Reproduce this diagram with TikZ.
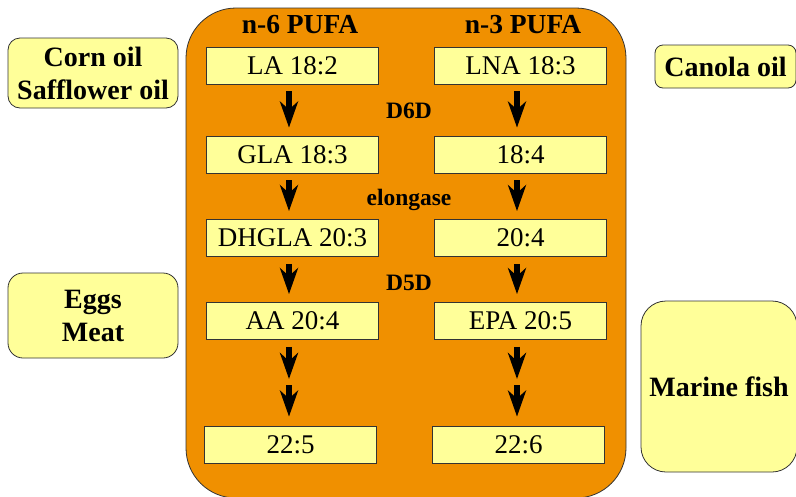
\documentclass[tikz,border=0pt]{standalone}
\usepackage{fontspec}
\setmainfont{Liberation Serif}
\newfontfamily\timesfont{Liberation Serif}
\usepackage{tikz}
\usetikzlibrary{positioning,arrows.meta}
\definecolor{pufaorange}{RGB}{240,144,0}
\definecolor{acidyellow}{RGB}{255,255,153}
\tikzset{
  acid/.style={draw=black!80, line width=0.8pt, fill=acidyellow, minimum width=172pt, minimum height=37pt, inner sep=0pt, font=\timesfont\fontsize{27}{29}\selectfont},
  source/.style={rounded corners=12pt, draw=black!80, line width=0.8pt, fill=acidyellow, align=center, inner sep=0pt, font=\timesfont\fontsize{28}{33}\selectfont\bfseries},
  head/.style={font=\timesfont\fontsize{27.5}{28}\selectfont\bfseries},
  enzyme/.style={font=\timesfont\fontsize{23.5}{24}\selectfont\bfseries},
  fat/.style={-{Stealth[length=26pt,width=18pt,inset=8pt]}, line width=6pt, shorten <=7pt, shorten >=8pt},
}
\begin{document}
\begin{tikzpicture}[x=1pt,y=-1pt]
  \useasboundingbox (0,0) rectangle (796,496);
  \begin{scope}
    \clip (0,0) rectangle (796,496);
    % pathway container
    \node[draw=black!80, line width=0.8pt, fill=pufaorange, rounded corners=50pt, minimum width=440pt, minimum height=490pt, inner sep=0pt] (pathway) at (406,253) {};
    % food sources
    \node[source, minimum width=170pt, minimum height=70pt] (corn) at (93,73) {Corn oil\\Safflower oil};
    \node[source, rounded corners=8pt, minimum width=141pt, minimum height=43pt] (canola) at (725.5,66.5) {Canola oil};
    \node[source, rounded corners=15pt, minimum width=170pt, minimum height=85pt] (eggs) at (93,315.5) {Eggs\\Meat};
    \node[source, rounded corners=25pt, minimum width=156pt, minimum height=171pt] (fish) at (719,386.5) {Marine fish};
  \end{scope}
  % column heads
  \node[head] (nsix) at (300,25) {n-6 PUFA};
  \node[head] (nthree) at (523,25) {n-3 PUFA};
  % n-6 series
  \node[acid] (la) at (292.5,65.5) {LA 18:2};
  \node[acid] (gla) at (292.5,154.5) {GLA 18:3};
  \node[acid] (dhgla) at (292.5,238) {DHGLA 20:3};
  \node[acid] (aa) at (292.5,321) {AA 20:4};
  \node[acid] (dpa) at (290.5,444.5) {22:5};
  % n-3 series
  \node[acid] (lna) at (520.5,65.5) {LNA 18:3};
  \node[acid] (sda) at (520.5,154.5) {18:4};
  \node[acid] (eta) at (520.5,238) {20:4};
  \node[acid] (epa) at (520.5,321) {EPA 20:5};
  \node[acid] (dha) at (518.5,444.5) {22:6};
  % enzymes
  \node[enzyme] (dsix) at (409,111) {D6D};
  \node[enzyme] (elong) at (409,200) {elongase};
  \node[enzyme] (dfive) at (409,283) {D5D};
  % steps
  \foreach \a/\b in {la/gla,gla/dhgla,dhgla/aa,lna/sda,sda/eta,eta/epa}{
    \draw[fat] ([xshift=-3.5pt]\a.south) -- ([xshift=-3.5pt]\b.north);
  }
  \coordinate (msix) at (289,382);
  \coordinate (mthree) at (517,382);
  \draw[fat, shorten >=3pt] ([xshift=-3.5pt]aa.south) -- (msix);
  \draw[fat, shorten <=3pt, shorten >=9pt] (msix) -- ([xshift=-1.5pt]dpa.north);
  \draw[fat, shorten >=3pt] ([xshift=-3.5pt]epa.south) -- (mthree);
  \draw[fat, shorten <=3pt, shorten >=9pt] (mthree) -- ([xshift=-1.5pt]dha.north);
\end{tikzpicture}
\end{document}
